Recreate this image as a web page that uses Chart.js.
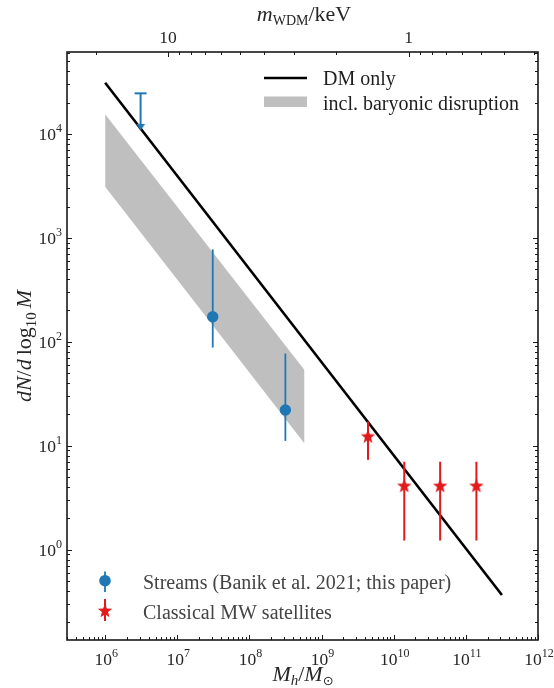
<!DOCTYPE html>
<html><head><meta charset="utf-8">
<script src="https://cdn.jsdelivr.net/npm/chart.js@4.4.1/dist/chart.umd.min.js"></script>
<style>html,body{margin:0;padding:0;background:#fff}canvas{display:block}</style>
</head><body>
<canvas id="c" width="554" height="688"></canvas>
<script>
// ---------------- data ----------------
const dmOnlyMass = [1e6, 3.16e11];
const dmOnlyN = [3.11e4, 0.365];
const bandMass = [1e6, 5.8e8];
const bandUpper = [1.55e4, 53.4];
const bandLower = [3.1e3, 10.5];
const streamMass = [3.1e7, 3.15e8];
const streamN = [174, 22];
const streamLo = [88, 11.1];
const streamHi = [775, 77];
const limitMass = [3.1e6];
const limitTop = [2.46e4];
const limitEnd = [1.25e4];
const satMass = [4.4e9, 1.4e10, 4.4e10, 1.4e11];
const satN = [12.2, 4.08, 4.08, 4.08];
const satLo = [7.3, 1.22, 1.22, 1.22];
const satHi = [17, 7.0, 7.0, 7.0];
const xTickExps = [6, 7, 8, 9, 10, 11, 12];
const yTickExps = [0, 1, 2, 3, 4];
const topTickValues = [10, 1];
const topTickLabels = ['10', '1'];

const BLUE = '#1f77b4', RED = '#e31a1c', BAND = '#bfbfbf';
const SERIF = "'Liberation Serif', 'Times New Roman', serif";

// star marker
function makeStar(R, color) {
  const s = Math.ceil(R * 2 + 2), c = document.createElement('canvas');
  c.width = s; c.height = s;
  const g = c.getContext('2d'); g.fillStyle = color; g.beginPath();
  const r = R * 0.42;
  for (let i = 0; i < 10; i++) {
    const a = -Math.PI / 2 + i * Math.PI / 5, rr = i % 2 ? r : R;
    g.lineTo(s / 2 + rr * Math.cos(a), s / 2 + rr * Math.sin(a));
  }
  g.closePath(); g.fill();
  return c;
}
function makeCaret(color) {
  const c = document.createElement('canvas'); c.width = 14; c.height = 14;
  const g = c.getContext('2d'); g.fillStyle = color; g.beginPath();
  g.moveTo(2.5, 7); g.lineTo(11.5, 7); g.lineTo(7, 13.5); g.closePath(); g.fill();
  return c;
}
const starImg = makeStar(7.6, RED);
const caretImg = makeCaret(BLUE);

const pts = (xs, ys) => xs.map((x, i) => ({x, y: ys[i]}));
const seg = (x, a, b) => [{x, y: a}, {x, y: b}];

const datasets = [];
datasets.push({data: pts(satMass, satN), pointStyle: starImg, pointRadius: 8, showLine: false});
datasets.push({data: pts(streamMass, streamN), pointStyle: 'circle', pointRadius: 5.7, backgroundColor: BLUE, borderWidth: 0, showLine: false});
datasets.push({data: pts(limitMass, limitTop), pointStyle: 'line', pointRadius: 6, borderColor: BLUE, borderWidth: 2, showLine: false});
datasets.push({data: pts(limitMass, limitEnd), pointStyle: caretImg, pointRadius: 7, showLine: false});
limitMass.forEach((m, i) => datasets.push({data: seg(m, limitTop[i], limitEnd[i]), showLine: true, borderColor: BLUE, borderWidth: 2, pointRadius: 0}));
streamMass.forEach((m, i) => datasets.push({data: seg(m, streamLo[i], streamHi[i]), showLine: true, borderColor: BLUE, borderWidth: 1.8, pointRadius: 0}));
satMass.forEach((m, i) => datasets.push({data: seg(m, satLo[i], satHi[i]), showLine: true, borderColor: RED, borderWidth: 2, pointRadius: 0}));
datasets.push({data: pts(dmOnlyMass, dmOnlyN), showLine: true, borderColor: '#000', borderWidth: 2.6, pointRadius: 0});
datasets.push({data: pts(bandMass, bandUpper), showLine: true, borderColor: 'transparent', borderWidth: 0, pointRadius: 0, fill: false});
datasets.push({data: pts(bandMass, bandLower), showLine: true, borderColor: 'transparent', borderWidth: 0, pointRadius: 0, fill: '-1', backgroundColor: BAND});

function rich(ctx, parts, x, y, align) {
  let w = 0;
  parts.forEach(p => { ctx.font = p.f; p.w = ctx.measureText(p.t).width; w += p.w + (p.gap || 0); });
  let cx = align === 'center' ? x - w / 2 : align === 'right' ? x - w : x;
  parts.forEach(p => { ctx.font = p.f; ctx.fillText(p.t, cx, y + (p.dy || 0)); cx += p.w + (p.gap || 0); });
}

const decor = {
  id: 'decor',
  afterDraw(chart) {
    const ctx = chart.ctx, a = chart.chartArea;
    const xs = chart.scales.x, ys = chart.scales.y, x2 = chart.scales.x2;
    ctx.save();
    ctx.strokeStyle = '#1a1a1a'; ctx.lineWidth = 1;
    // ticks
    const MAJ = 5, MIN = 3;
    ctx.beginPath();
    for (let d = 5; d <= 12; d++) for (let k = 1; k <= 9; k++) {
      const v = k * Math.pow(10, d); if (v < xs.min * 0.999 || v > xs.max * 1.001) continue;
      const px = Math.round(xs.getPixelForValue(v)) + 0.5, L = k === 1 ? MAJ : MIN;
      ctx.moveTo(px, a.bottom); ctx.lineTo(px, a.bottom - L);
    }
    for (let d = -1; d <= 4; d++) for (let k = 1; k <= 9; k++) {
      const v = k * Math.pow(10, d); if (v < ys.min || v > ys.max) continue;
      const py = Math.round(ys.getPixelForValue(v)) + 0.5, L = k === 1 ? MAJ : MIN;
      ctx.moveTo(a.left, py); ctx.lineTo(a.left + L, py);
      ctx.moveTo(a.right, py); ctx.lineTo(a.right - L, py);
    }
    for (let d = -1; d <= 1; d++) for (let k = 1; k <= 9; k++) {
      const v = k * Math.pow(10, d); if (v < x2.min || v > x2.max) continue;
      const px = Math.round(x2.getPixelForValue(v)) + 0.5, L = k === 1 ? MAJ : MIN;
      ctx.moveTo(px, a.top); ctx.lineTo(px, a.top + L);
    }
    ctx.stroke();
    // frame
    ctx.lineWidth = 1.6;
    ctx.strokeRect(a.left, a.top, a.right - a.left, a.bottom - a.top);

    ctx.fillStyle = '#262626'; ctx.textBaseline = 'alphabetic';
    const F = (s, it) => (it ? 'italic ' : '') + s + 'px ' + SERIF;
    // x tick labels
    xTickExps.forEach(e => {
      const px = xs.getPixelForValue(Math.pow(10, e));
      rich(ctx, [{t: '10', f: F(17.5)}, {t: String(e), f: F(12), dy: -8}], px + 1, 665, 'center');
    });
    // y tick labels
    yTickExps.forEach(e => {
      const py = ys.getPixelForValue(Math.pow(10, e));
      rich(ctx, [{t: '10', f: F(17.5)}, {t: String(e), f: F(12), dy: -8}], 62, py + 6, 'right');
    });
    // top tick labels
    topTickValues.forEach((v, i) => {
      const px = x2.getPixelForValue(v);
      rich(ctx, [{t: topTickLabels[i], f: F(17.5)}], px, 43, 'center');
    });
    // titles
    rich(ctx, [{t: 'm', f: F(22, true)}, {t: 'WDM', f: F(14), dy: 4}, {t: '/keV', f: F(22)}], 304, 21, 'center');
    rich(ctx, [{t: 'M', f: F(22, true)}, {t: 'h', f: F(15, true), dy: 4}, {t: '/', f: F(22)}, {t: 'M', f: F(22, true)}, {t: '\u2299', f: '13px DejaVu Sans', dy: 4}], 303, 681, 'center');
    ctx.save();
    ctx.translate(31, (a.top + a.bottom) / 2); ctx.rotate(-Math.PI / 2);
    rich(ctx, [{t: 'dN', f: F(22, true)}, {t: '/', f: F(22)}, {t: 'd', f: F(22, true), gap: 4}, {t: 'log', f: F(22)}, {t: '10', f: F(15), dy: 5, gap: 4}, {t: 'M', f: F(22, true)}], 0, 0, 'center');
    ctx.restore();

    // top legend
    ctx.strokeStyle = '#000'; ctx.lineWidth = 2.6;
    ctx.beginPath(); ctx.moveTo(264, 78); ctx.lineTo(307, 78); ctx.stroke();
    ctx.fillStyle = BAND; ctx.fillRect(264, 96.5, 43, 10.5);
    ctx.fillStyle = '#1e1e1e';
    ctx.font = F(20); ctx.fillText('DM only', 323, 84.5);
    ctx.fillText('incl. baryonic disruption', 323, 110);
    // bottom legend
    ctx.strokeStyle = BLUE; ctx.lineWidth = 1.8;
    ctx.beginPath(); ctx.moveTo(105, 571.5); ctx.lineTo(105, 592); ctx.stroke();
    ctx.fillStyle = BLUE; ctx.beginPath(); ctx.arc(105, 580.7, 5.8, 0, Math.PI * 2); ctx.fill();
    ctx.strokeStyle = RED; ctx.lineWidth = 2;
    ctx.beginPath(); ctx.moveTo(105, 599); ctx.lineTo(105, 621); ctx.stroke();
    ctx.drawImage(starImg, 105 - starImg.width / 2, 611 - starImg.height / 2);
    ctx.fillStyle = '#444';
    ctx.font = F(20);
    ctx.fillText('Streams (Banik et al. 2021; this paper)', 143, 588.5);
    ctx.fillText('Classical MW satellites', 143, 618.5);
    ctx.restore();
  }
};

new Chart(document.getElementById('c'), {
  type: 'scatter',
  data: {datasets},
  options: {
    responsive: false, animation: false, events: [],
    layout: {padding: {left: 67, right: 16, top: 52, bottom: 48}},
    scales: {
      x: {type: 'logarithmic', min: 2.96e5, max: 1e12, display: false},
      y: {type: 'logarithmic', min: 0.1346, max: 6.15e4, display: false},
      x2: {type: 'logarithmic', position: 'top', reverse: true, min: 0.29, max: 26.3, display: false}
    },
    plugins: {legend: {display: false}, tooltip: {enabled: false}}
  },
  plugins: [decor]
});
</script>
</body></html>
